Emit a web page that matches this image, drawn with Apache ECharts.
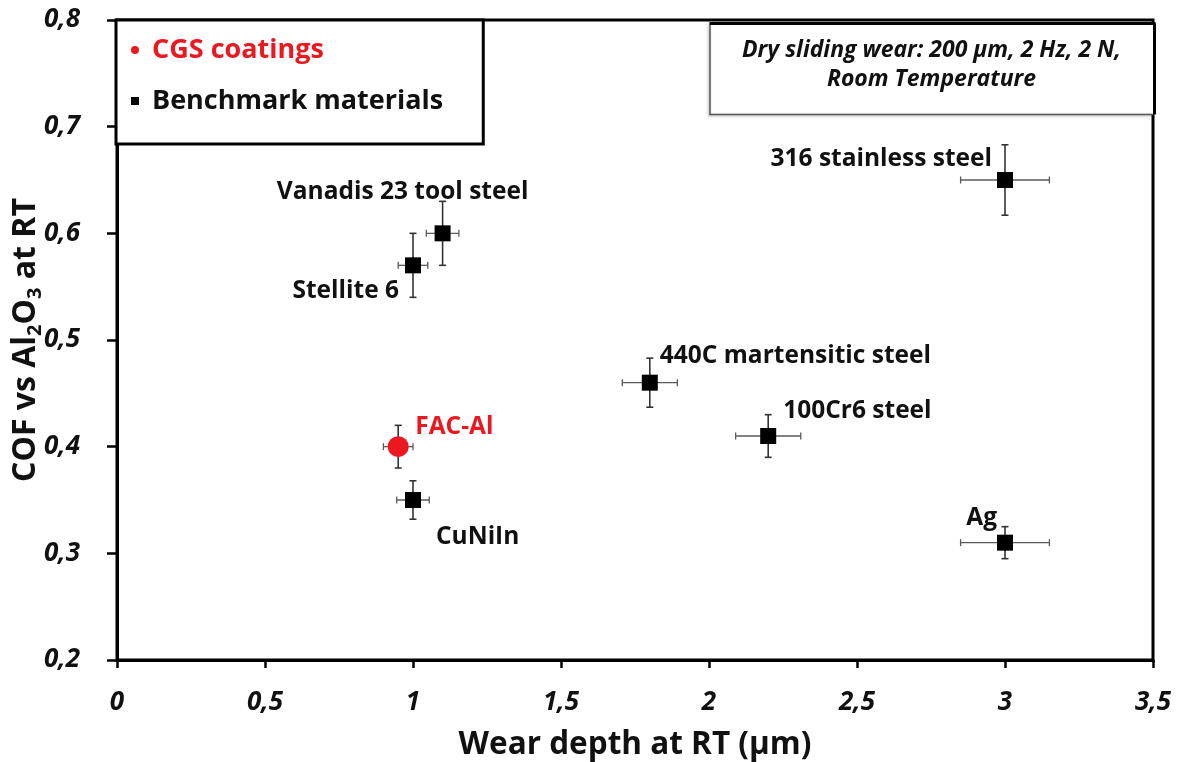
<!DOCTYPE html>
<html>
<head>
<meta charset="utf-8">
<script src="https://cdn.jsdelivr.net/npm/echarts@6/dist/echarts.min.js"></script>
<style>
  html, body { margin: 0; padding: 0; background: #fff; }
  #chart { width: 1181px; height: 762px; }
</style>
</head>
<body>
<div id="chart"></div>
<script>
// Benchmark materials: wear depth (µm) and COF vs Al2O3, with error half-widths
const benchmarkNames = ['Vanadis 23 tool steel', 'Stellite 6', 'CuNiIn', '440C martensitic steel', '100Cr6 steel', '316 stainless steel', 'Ag'];
const benchmarkWear = [1.1, 1.0, 1.0, 1.8, 2.2, 3.0, 3.0];
const benchmarkWearErr = [0.055, 0.05, 0.055, 0.093, 0.11, 0.15, 0.15];
const benchmarkCof = [0.60, 0.57, 0.35, 0.46, 0.41, 0.65, 0.31];
const benchmarkCofErr = [0.03, 0.03, 0.018, 0.023, 0.02, 0.033, 0.015];

// CGS coatings
const coatingNames = ['FAC-Al'];
const coatingWear = [0.95];
const coatingWearErr = [0.05];
const coatingCof = [0.40];
const coatingCofErr = [0.02];

// Axis ranges and tick steps
const xRange = [0, 3.5], xStep = 0.5;
const yRange = [0.2, 0.8], yStep = 0.1;

const FONT = '"Open Sans", "DejaVu Sans", sans-serif';
const RED = '#ec1820';
const INK = '#111';

// Where each point's name sits relative to its marker centre
const labelPlacement = {
  'Vanadis 23 tool steel': { offset: [-40, -41], align: 'center' },
  'Stellite 6': { offset: [-14, 26], align: 'right' },
  'CuNiIn': { offset: [23, 37], align: 'left' },
  '440C martensitic steel': { offset: [10, -27], align: 'left' },
  '100Cr6 steel': { offset: [15, -25], align: 'left' },
  '316 stainless steel': { offset: [-13, -21], align: 'right' },
  'Ag': { offset: [-8, -25], align: 'right' },
  'FAC-Al': { offset: [17, -20], align: 'left' }
};

function pointData(names, xs, ys, color) {
  return names.map((n, i) => ({
    name: n,
    value: [xs[i], ys[i]],
    label: {
      show: true,
      position: 'inside',
      formatter: n,
      offset: labelPlacement[n].offset,
      align: labelPlacement[n].align,
      verticalAlign: 'middle',
      color: color,
      fontFamily: FONT,
      fontWeight: 'bold',
      fontSize: 24.5
    }
  }));
}

function errorData(xs, ys, dxs, dys) {
  return xs.map((x, i) => [x, ys[i], dxs[i], dys[i]]);
}

function renderErrorBars(params, api) {
  const x = api.value(0), y = api.value(1), dx = api.value(2), dy = api.value(3);
  const c = api.coord([x, y]);
  const l = api.coord([x - dx, y])[0], r = api.coord([x + dx, y])[0];
  const t = api.coord([x, y + dy])[1], b = api.coord([x, y - dy])[1];
  const hStyle = { stroke: '#5a5a5a', lineWidth: 1.3 };
  const vStyle = { stroke: '#333', lineWidth: 1.6 };
  const cap = 3.5;
  return {
    type: 'group',
    children: [
      { type: 'line', shape: { x1: l, y1: c[1], x2: r, y2: c[1] }, style: hStyle },
      { type: 'line', shape: { x1: l, y1: c[1] - cap, x2: l, y2: c[1] + cap }, style: hStyle },
      { type: 'line', shape: { x1: r, y1: c[1] - cap, x2: r, y2: c[1] + cap }, style: hStyle },
      { type: 'line', shape: { x1: c[0], y1: t, x2: c[0], y2: b }, style: vStyle },
      { type: 'line', shape: { x1: c[0] - cap, y1: t, x2: c[0] + cap, y2: t }, style: vStyle },
      { type: 'line', shape: { x1: c[0] - cap, y1: b, x2: c[0] + cap, y2: b }, style: vStyle }
    ]
  };
}

const decimalComma = v => String(Math.round(v * 10) / 10).replace('.', ',');

const chart = echarts.init(document.getElementById('chart'), null, { renderer: 'canvas' });

chart.setOption({
  backgroundColor: '#fff',
  animation: false,
  grid: {
    left: 117, right: 28, top: 20, bottom: 102,
    containLabel: false,
    outerBoundsMode: 'none',
    show: true, borderColor: '#000', borderWidth: 3, backgroundColor: 'transparent'
  },
  legend: {
    left: 116, top: 20,
    orient: 'vertical',
    padding: [15, 40, 28, 15],
    itemGap: 21,
    itemWidth: 8, itemHeight: 8,
    borderColor: '#000', borderWidth: 3,
    backgroundColor: '#fff',
    textStyle: { fontFamily: FONT, fontWeight: 'bold', fontSize: 27, lineHeight: 30, color: INK, padding: [0, 0, 0, 8] },
    data: [
      { name: 'CGS coatings', icon: 'circle', textStyle: { color: RED }, itemStyle: { color: RED } },
      { name: 'Benchmark materials', icon: 'rect', itemStyle: { color: '#000' } }
    ]
  },
  xAxis: {
    type: 'value',
    min: xRange[0], max: xRange[1], interval: xStep,
    name: 'Wear depth at RT (µm)',
    nameLocation: 'middle',
    nameGap: 69,
    nameMoveOverlap: false,
    nameTextStyle: { fontFamily: FONT, fontWeight: 'bold', fontSize: 31.5, color: INK },
    axisLine: { lineStyle: { color: '#000', width: 3 } },
    axisTick: { inside: false, length: 8, lineStyle: { color: '#000', width: 2.5 } },
    axisLabel: { margin: 30, formatter: decimalComma, fontFamily: FONT, fontWeight: 'bold', fontStyle: 'italic', fontSize: 26, color: INK },
    splitLine: { show: false }
  },
  yAxis: {
    type: 'value',
    min: yRange[0], max: yRange[1], interval: yStep,
    name: 'COF vs Al{sub|2}O{sub|3} at RT',
    nameLocation: 'middle',
    nameGap: 72,
    nameMoveOverlap: false,
    nameTextStyle: {
      fontFamily: FONT, fontWeight: 'bold', fontSize: 32, color: INK, lineHeight: 38,
      rich: { sub: { fontFamily: FONT, fontWeight: 'bold', fontSize: 20, color: INK, lineHeight: 18, verticalAlign: 'bottom' } }
    },
    axisLine: { lineStyle: { color: '#000', width: 3 } },
    axisTick: { inside: false, length: 10, lineStyle: { color: '#000', width: 2.5 } },
    axisLabel: { margin: 37, formatter: decimalComma, fontFamily: FONT, fontWeight: 'bold', fontStyle: 'italic', fontSize: 26, color: INK },
    splitLine: { show: false }
  },
  graphic: [
    // test-conditions note in the upper right corner of the plot
    {
      type: 'group', left: 707, top: 21, z: 50,
      children: [
        { type: 'rect', shape: { x: 0, y: 0, width: 445, height: 91 }, style: { fill: '#fff' } },
        { type: 'line', shape: { x1: 0.5, y1: 0, x2: 0.5, y2: 91 }, style: { stroke: '#555', lineWidth: 1.5, shadowColor: 'rgba(0,0,0,0.35)', shadowBlur: 3, shadowOffsetX: -1, shadowOffsetY: 1 } },
        { type: 'line', shape: { x1: 0, y1: 91, x2: 445, y2: 91 }, style: { stroke: '#555', lineWidth: 1.5, shadowColor: 'rgba(0,0,0,0.35)', shadowBlur: 3, shadowOffsetX: -1, shadowOffsetY: 1 } },
        { type: 'line', shape: { x1: 0, y1: 0, x2: 446, y2: 0 }, style: { stroke: '#000', lineWidth: 3 } },
        { type: 'line', shape: { x1: 445, y1: 0, x2: 445, y2: 91 }, style: { stroke: '#000', lineWidth: 3 } },
        { type: 'text', x: 222, y: 27, style: { text: 'Dry sliding wear: 200 µm, 2 Hz, 2 N,', font: 'italic bold 23px ' + FONT, fill: INK, align: 'center', verticalAlign: 'middle' } },
        { type: 'text', x: 222, y: 56, style: { text: 'Room Temperature', font: 'italic bold 23px ' + FONT, fill: INK, align: 'center', verticalAlign: 'middle' } }
      ]
    }
  ],
  series: [
    {
      type: 'custom',
      name: 'benchmark error',
      renderItem: renderErrorBars,
      data: errorData(benchmarkWear, benchmarkCof, benchmarkWearErr, benchmarkCofErr),
      encode: { x: 0, y: 1 },
      z: 2,
      silent: true
    },
    {
      type: 'custom',
      name: 'coating error',
      renderItem: renderErrorBars,
      data: errorData(coatingWear, coatingCof, coatingWearErr, coatingCofErr),
      encode: { x: 0, y: 1 },
      z: 2,
      silent: true
    },
    {
      type: 'scatter',
      name: 'Benchmark materials',
      symbol: 'rect',
      symbolSize: 16,
      itemStyle: { color: '#000', opacity: 1 },
      data: pointData(benchmarkNames, benchmarkWear, benchmarkCof, INK),
      z: 3
    },
    {
      type: 'scatter',
      name: 'CGS coatings',
      symbol: 'circle',
      symbolSize: 21,
      itemStyle: { color: RED, opacity: 1 },
      data: pointData(coatingNames, coatingWear, coatingCof, RED),
      z: 3
    }
  ]
});
</script>
</body>
</html>
